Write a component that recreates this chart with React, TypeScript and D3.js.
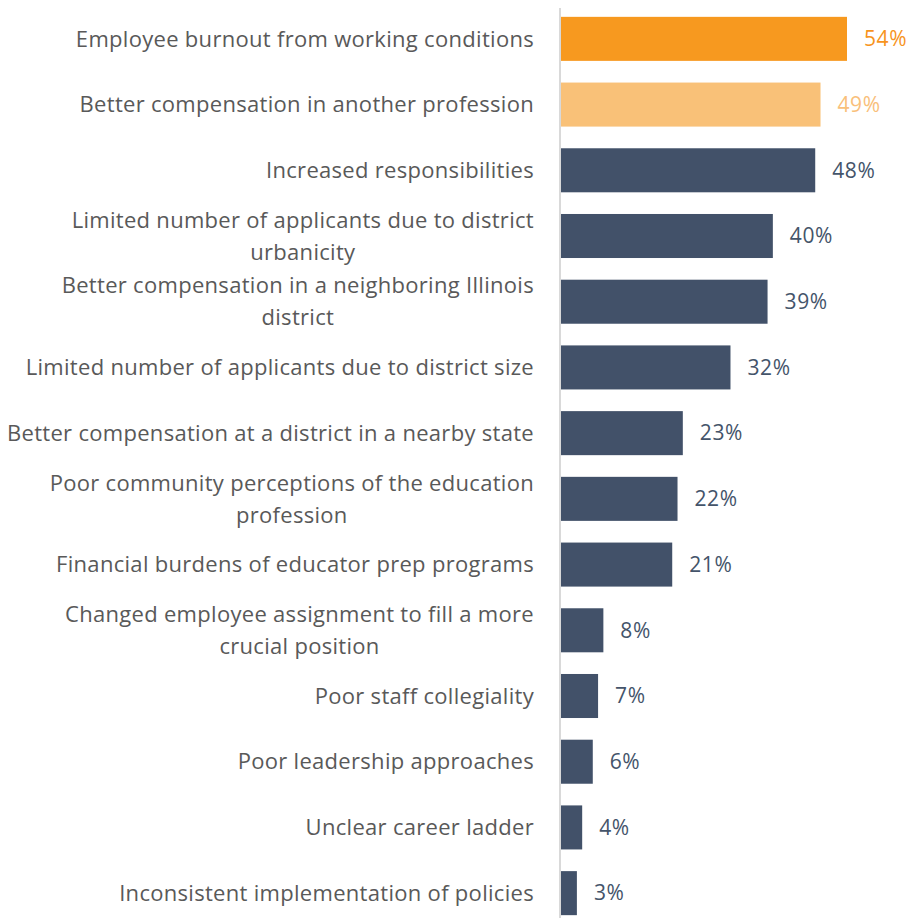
import * as d3 from "d3";
import { useEffect, useRef } from "react";

const categories = [
  ["Employee burnout from working conditions"],
  ["Better compensation in another profession"],
  ["Increased responsibilities"],
  ["Limited number of applicants due to district", "urbanicity"],
  ["Better compensation in a neighboring Illinois", "district"],
  ["Limited number of applicants due to district size"],
  ["Better compensation at a district in a nearby state"],
  ["Poor community perceptions of the education", "profession"],
  ["Financial burdens of educator prep programs"],
  ["Changed employee assignment to fill a more", "crucial position"],
  ["Poor staff collegiality"],
  ["Poor leadership approaches"],
  ["Unclear career ladder"],
  ["Inconsistent implementation of policies"],
];
const values = [54, 49, 48, 40, 39, 32, 23, 22, 21, 8, 7, 6, 4, 3];
const barColors = ["#F7991F", "#F9C178"];
const labelColors = ["#F7941D", "#F9C07A"];
const defaultBar = "#425169";
const defaultLabel = "#44546A";

export default function App() {
  const svgRef = useRef<SVGSVGElement | null>(null);
  const width = 910;
  const height = 918;

  useEffect(() => {
    const svg = d3.select(svgRef.current);
    svg.selectAll("*").remove();
    const font = "'Open Sans', 'Noto Sans', sans-serif";

    const y = d3
      .scaleBand<number>()
      .domain(d3.range(values.length))
      .range([6, 926])
      .paddingInner(0.33)
      .paddingOuter(0.165);
    const x = d3.scaleLinear().domain([0, 54]).range([561, 847]);

    svg
      .append("g")
      .selectAll("rect")
      .data(values)
      .join("rect")
      .attr("x", x(0))
      .attr("y", (_, i) => y(i)!)
      .attr("width", (d) => x(d) - x(0))
      .attr("height", y.bandwidth())
      .attr("fill", (_, i) => barColors[i] ?? defaultBar);

    // axis line
    svg
      .append("line")
      .attr("x1", 560)
      .attr("x2", 560)
      .attr("y1", 8)
      .attr("y2", height)
      .attr("stroke", "#D9D9D9")
      .attr("stroke-width", 2);

    svg
      .append("g")
      .selectAll("text")
      .data(values)
      .join("text")
      .attr("x", (d) => x(d) + 17)
      .attr("y", (_, i) => y(i)! + y.bandwidth() / 2)
      .attr("dy", "0.35em")
      .attr("font-family", font)
      .attr("font-size", 21)
      .attr("letter-spacing", 0.6)
      .attr("fill", (_, i) => labelColors[i] ?? defaultLabel)
      .text((d) => `${d}%`);

    const labelRight = 534;
    const lineH = 32;
    categories.forEach((lines, i) => {
      const cy = y(i)! + y.bandwidth() / 2;
      const t = svg
        .append("text")
        .attr("font-family", font)
        .attr("font-size", 22)
        .attr("letter-spacing", 0.3)
        .attr("fill", "#595959")
        .attr("text-anchor", "middle");
      const spans = lines.map((l, j) =>
        t
          .append("tspan")
          .attr("y", cy + (j - (lines.length - 1) / 2) * lineH)
          .attr("dy", "0.35em")
          .text(l)
      );
      const maxW = d3.max(spans, (s) => (s.node() as SVGTSpanElement).getComputedTextLength()) ?? 0;
      spans.forEach((s) => s.attr("x", labelRight - maxW / 2));
    });
  }, []);

  return (
    <svg
      ref={svgRef}
      width={width}
      height={height}
      style={{ position: "absolute", left: 0, top: 0, background: "#fff" }}
    ></svg>
  );
}
